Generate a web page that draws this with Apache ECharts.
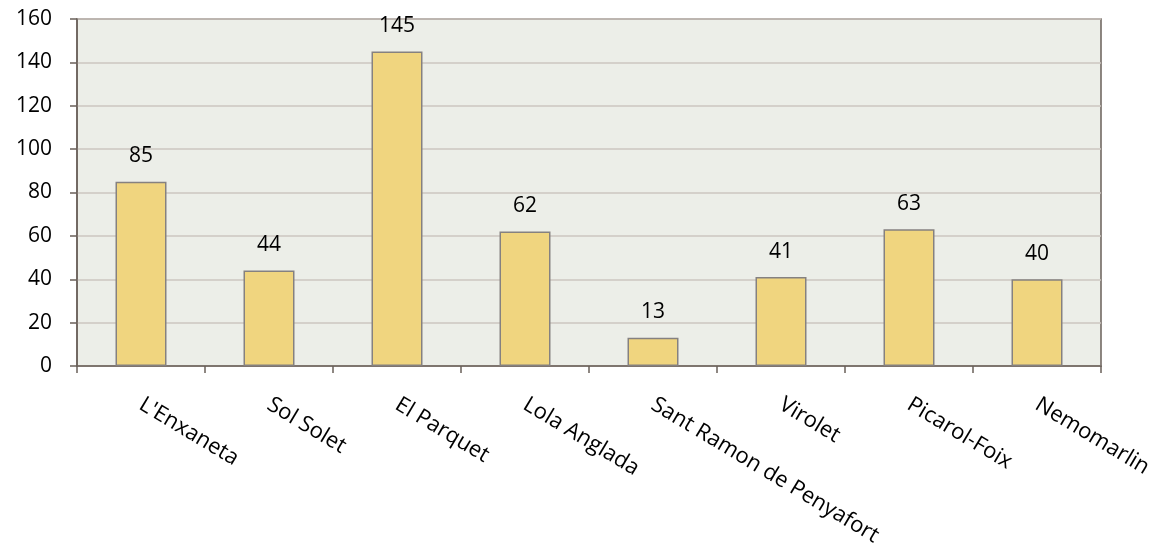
<!DOCTYPE html>
<html><head><meta charset="utf-8">
<script src="https://cdn.jsdelivr.net/npm/echarts@6/dist/echarts.min.js"></script>
<style>html,body{margin:0;padding:0;background:#fff}#c{width:1160px;height:554px}</style>
</head><body><div id="c"></div>
<script>
const categories = ["L'Enxaneta","Sol Solet","El Parquet","Lola Anglada","Sant Ramon de Penyafort","Virolet","Picarol-Foix","Nemomarlin"];
const values = [85,44,145,62,13,41,63,40];
const yTicks = {min:0,max:160,interval:20};
const font = "'Open Sans', 'Noto Sans', sans-serif";
const chart = echarts.init(document.getElementById('c'));
chart.setOption({
  animation:false,
  grid:{left:77,right:59,top:19,bottom:188,show:true,backgroundColor:'#ECEEE8',borderColor:'#6a605a',borderWidth:1.5},
  xAxis:{type:'category',data:categories,
    axisLine:{lineStyle:{color:'#6a605a',width:1.5}},
    axisTick:{show:true,length:7,lineStyle:{color:'#6a605a',width:1.5}},
    axisLabel:{rotate:-31,margin:37,fontSize:22,color:'#000',fontFamily:font,interval:0}},
  yAxis:{type:'value',min:yTicks.min,max:yTicks.max,interval:yTicks.interval,
    axisLine:{show:true,lineStyle:{color:'#6a605a',width:1.5}},
    axisTick:{show:true,length:7,lineStyle:{color:'#6a605a',width:1.5}},
    axisLabel:{fontSize:21,color:'#000',fontFamily:font,margin:25},
    splitLine:{lineStyle:{color:'#CDC6C1',width:1.5}}},
  series:[{type:'bar',data:values,barWidth:51,
    itemStyle:{color:'#F0D57F',borderColor:'#858180',borderWidth:1.5},
    label:{show:true,position:'top',distance:15,fontSize:21,color:'#000',fontFamily:font}}]
});
</script></body></html>
